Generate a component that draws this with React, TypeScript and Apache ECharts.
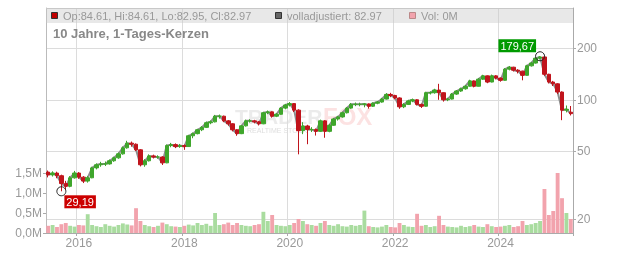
import React, { useEffect, useRef } from 'react';
import * as echarts from 'echarts';

// Monthly categories: June 2015 .. May 2025
const START_YEAR = 2015;
const START_MONTH_INDEX = 5; // June (0-based)
const N_MONTHS = 120;
const months: string[] = [];
for (let i = 0; i < N_MONTHS; i++) {
  const k = START_MONTH_INDEX + i;
  const y = START_YEAR + Math.floor(k / 12);
  const m = (k % 12) + 1;
  months.push(`${y}-${String(m).padStart(2, '0')}`);
}

const yearLabels = ['2016', '2018', '2020', '2022', '2024'];
const priceTicks = [20, 50, 100, 200];
const volumeTicks = [0, 500000, 1000000, 1500000];

const opens = [37.8,36.4,37.3,36.0,32.4,31.2,35.0,37.3,35.3,33.5,
  35.0,40.0,41.7,42.2,42.2,44.0,45.8,48.3,52.4,55.8,
  55.0,51.0,41.7,44.0,47.0,46.3,46.3,42.8,54.0,54.7,
  53.3,54.0,53.3,61.6,63.4,66.8,69.0,73.4,74.3,80.2,
  80.2,75.3,72.4,66.8,63.4,70.4,75.3,75.3,74.3,72.4,
  84.0,85.0,80.2,82.3,89.4,93.2,95.0,87.0,66.0,70.3,
  67.0,67.0,65.4,75.3,65.4,71.0,77.2,79.4,84.0,89.4,
  94.1,94.1,94.1,94.6,91.7,95.5,97.0,101.0,107.5,106.0,
  102.5,91.0,94.0,98.5,100.0,94.0,91.7,110.0,110.0,114.0,
  110.0,100.0,101.0,108.0,112.5,116.0,120.0,129.0,120.0,132.0,
  138.0,127.0,138.0,134.0,130.0,151.0,155.0,149.0,147.0,139.0,
  158.0,164.0,175.0,178.0,141.0,127.0,124.0,111.0,87.0,84.61];

const closes = [36.4,37.3,36.0,32.4,31.2,35.0,37.3,35.3,33.5,35.0,
  40.0,41.7,42.2,42.2,44.0,45.8,48.3,52.4,55.8,55.0,
  51.0,41.7,44.0,47.0,46.3,46.3,42.8,54.0,54.7,53.3,
  54.0,53.3,61.6,63.4,66.8,69.0,73.4,74.3,80.2,80.2,
  75.3,72.4,66.8,63.4,70.4,75.3,75.3,74.3,72.4,84.0,
  85.0,80.2,82.3,89.4,93.2,95.0,87.0,66.0,70.3,67.0,
  67.0,65.4,75.3,65.4,71.0,77.2,79.4,84.0,89.4,94.1,
  94.1,94.1,94.6,91.7,95.5,97.0,101.0,107.5,106.0,102.5,
  91.0,94.0,98.5,100.0,94.0,91.7,110.0,110.0,114.0,110.0,
  100.0,101.0,108.0,112.5,116.0,120.0,129.0,120.0,132.0,138.0,
  127.0,138.0,134.0,130.0,151.0,155.0,149.0,147.0,139.0,158.0,
  164.0,175.0,178.0,141.0,127.0,124.0,111.0,87.0,88.0,82.97];

const lows = [35.2,35.6,34.8,29.19,30.0,30.8,34.6,34.5,32.6,32.8,
  34.8,39.2,40.6,41.0,41.8,43.4,45.2,47.8,51.8,53.2,
  50.2,40.8,40.6,43.6,45.4,45.2,41.6,42.6,52.8,52.2,
  52.4,51.0,53.0,59.6,62.8,65.6,68.4,72.0,73.8,77.6,
  74.0,70.6,65.4,61.6,63.0,69.8,73.6,72.8,70.8,72.0,
  82.4,78.6,79.2,81.8,88.0,91.4,84.8,48.0,63.0,55.0,
  64.8,61.8,64.8,60.0,64.6,70.4,75.6,78.6,83.2,88.6,
  91.8,91.6,90.4,88.8,90.8,94.2,96.2,100.4,103.6,100.6,
  88.6,89.4,93.2,96.8,92.6,89.6,91.2,107.4,108.6,100.0,
  97.6,98.2,100.4,106.8,111.2,114.6,119.4,118.2,119.6,130.8,
  125.0,126.4,131.6,127.6,129.4,148.6,146.4,142.6,130.0,138.4,
  156.4,162.8,172.4,138.0,124.6,120.4,108.2,76.0,84.4,81.0];

const highs = [38.6,38.2,38.0,36.5,33.6,35.8,38.4,37.8,35.8,35.9,
  40.6,42.5,43.4,43.6,44.8,46.5,49.2,53.4,57.6,57.0,
  55.6,51.5,45.0,48.0,47.8,47.4,46.8,54.8,56.0,55.6,
  55.2,54.8,62.4,64.4,67.6,70.2,74.6,75.8,81.6,82.0,
  80.8,76.2,73.0,67.4,71.2,76.6,77.0,76.4,75.2,85.0,
  86.6,85.6,83.6,90.4,94.6,97.0,95.6,88.0,74.0,71.4,
  69.2,68.0,76.6,76.0,72.2,78.4,80.6,85.2,90.6,95.8,
  96.4,96.2,95.8,95.2,96.6,98.4,102.6,109.4,109.8,107.0,
  103.4,95.6,100.0,101.6,100.8,95.0,111.4,112.0,116.0,124.0,
  110.6,102.8,109.6,114.0,117.8,122.0,131.0,129.8,134.0,140.0,
  138.8,140.4,139.4,135.0,153.0,157.6,156.0,151.0,148.0,160.0,
  166.4,176.8,179.67,178.6,142.0,129.0,125.0,112.0,92.6,92.0];

// volume in millions
const volumes = [0.18,0.2,0.15,0.22,0.25,0.18,0.16,0.2,0.19,0.47,
  0.2,0.17,0.15,0.22,0.18,0.16,0.2,0.24,0.21,0.19,
  0.62,0.3,0.2,0.17,0.15,0.18,0.26,0.22,0.17,0.16,
  0.15,0.18,0.21,0.19,0.25,0.2,0.23,0.18,0.5,0.2,
  0.22,0.26,0.2,0.25,0.2,0.18,0.17,0.2,0.22,0.53,
  0.3,0.45,0.2,0.18,0.17,0.2,0.25,0.35,0.3,0.22,
  0.2,0.18,0.25,0.3,0.2,0.18,0.22,0.17,0.16,0.2,
  0.18,0.2,0.56,0.17,0.15,0.14,0.16,0.2,0.15,0.14,
  0.25,0.2,0.16,0.15,0.48,0.18,0.2,0.15,0.17,0.43,
  0.2,0.16,0.15,0.14,0.18,0.15,0.17,0.2,0.16,0.15,
  0.22,0.17,0.15,0.16,0.18,0.2,0.15,0.17,0.3,0.2,
  0.22,0.25,0.3,1.1,0.45,0.55,1.5,0.87,0.5,0.35];

const minPoint = { idx: 3, value: 29.19 };
const maxPoint = { idx: 112, value: 179.67 };

const legendOHLC = 'Op:84.61, Hi:84.61, Lo:82.95, Cl:82.97';
const legendAdj = 'volladjustiert: 82.97';
const legendVol = 'Vol: 0M';
const titleText = '10 Jahre, 1-Tages-Kerzen';

const FONT = '"Liberation Sans", Arial, sans-serif';
const UP = '#3fa62c';
const DOWN = '#c0141c';

export default function App() {
  const ref = useRef<HTMLDivElement>(null);
  useEffect(() => {
    if (!ref.current) return;
    const chart = echarts.init(ref.current, undefined, { renderer: 'svg' });
    const isYearTick = (index: number) => {
      const c = months[index];
      return !!c && c.endsWith('-01') && yearLabels.includes(c.slice(0, 4));
    };
    const candleData = months.map((_, i) => [opens[i], closes[i], lows[i], highs[i]]);
    const volData = volumes.map((v, i) => ({
      value: v * 1e6,
      itemStyle: { color: closes[i] >= opens[i] ? '#a9dc9f' : '#f2a3ad' },
    }));
    const fmtNum = (v: number) => v.toFixed(2).replace('.', ',');

    chart.setOption({
      animation: false,
      textStyle: { fontFamily: FONT },
      grid: { left: 46, right: 59, top: 8, bottom: 20, containLabel: false },
      xAxis: {
        type: 'category',
        data: months,
        boundaryGap: true,
        axisLine: { show: true, lineStyle: { color: '#aaa' } },
        axisTick: { show: true, interval: isYearTick, length: 3, lineStyle: { color: '#aaa' } },
        axisLabel: {
          interval: isYearTick,
          formatter: (v: string) => v.slice(0, 4),
          color: '#999',
          fontSize: 12,
          margin: 4,
        },
        splitLine: { show: true, interval: isYearTick, lineStyle: { color: '#dcdcdc', width: 1 } },
      },
      yAxis: [
        {
          type: 'log',
          logBase: 10,
          position: 'right',
          min: 16.65,
          max: 344,
          axisLine: { show: true, lineStyle: { color: '#aaa' } },
          axisTick: { show: true, length: 3, customValues: priceTicks, lineStyle: { color: '#aaa' } },
          axisLabel: { customValues: priceTicks, color: '#999', fontSize: 12, margin: 4 },
          splitLine: { show: true, lineStyle: { color: '#dcdcdc', width: 1 } },
        },
        {
          type: 'value',
          position: 'left',
          min: 0,
          max: 5625000,
          axisLine: { show: true, lineStyle: { color: '#bbb' } },
          axisTick: { show: true, length: 3, customValues: volumeTicks, lineStyle: { color: '#aaa' } },
          axisLabel: {
            customValues: volumeTicks,
            formatter: (v: number) => (v / 1e6).toFixed(1).replace('.', ',') + 'M',
            color: '#999',
            fontSize: 12,
            margin: 4,
          },
          splitLine: { show: false },
        },
      ],
      series: [
        {
          type: 'bar',
          name: 'Vol',
          yAxisIndex: 1,
          data: volData,
          barCategoryGap: '12%',
          z: 1,
        },
        {
          type: 'line',
          name: 'volladjustiert',
          data: closes,
          yAxisIndex: 0,
          symbol: 'none',
          lineStyle: { color: '#8c8c8c', width: 2 },
          z: 2,
        },
        {
          type: 'candlestick',
          name: 'Kurs',
          yAxisIndex: 0,
          data: candleData,
          barWidth: 4,
          itemStyle: { color: UP, color0: DOWN, borderColor: UP, borderColor0: DOWN, borderWidth: 1 },
          z: 3,
          markPoint: {
            symbol: 'circle',
            symbolSize: 9,
            itemStyle: { color: 'rgba(255,255,255,0)', borderColor: '#222', borderWidth: 1 },
            data: [
              {
                coord: [months[minPoint.idx], minPoint.value],
                value: minPoint.value,
                label: {
                  show: true,
                  formatter: () => fmtNum(minPoint.value),
                  position: [8, 9],
                  align: 'left',
                  verticalAlign: 'top',
                  color: '#fff',
                  fontSize: 11,
                  lineHeight: 12,
                  backgroundColor: '#cc0000',
                  padding: [1, 2, 0, 2],
                },
              },
              {
                coord: [months[maxPoint.idx], maxPoint.value],
                value: maxPoint.value,
                label: {
                  show: true,
                  formatter: () => fmtNum(maxPoint.value),
                  position: [1, 1],
                  align: 'right',
                  verticalAlign: 'bottom',
                  color: '#fff',
                  fontSize: 11,
                  lineHeight: 12,
                  backgroundColor: '#009a00',
                  padding: [1, 2, 0, 2],
                },
              },
            ],
          },
        },
      ],
      graphic: [
        { type: 'text', left: 235, top: 106, z: 0, silent: true,
          style: { text: 'TRADER', font: `bold 21px ${FONT}`, fill: 'rgba(190,190,190,0.3)' } },
        { type: 'text', left: 323, top: 104, z: 0, silent: true,
          style: { text: 'FOX', font: `bold 24px ${FONT}`, fill: 'rgba(245,150,150,0.28)' } },
        { type: 'text', left: 247, top: 127, z: 0, silent: true,
          style: { text: 'REALTIME STOCK', font: `7px ${FONT}`, fill: 'rgba(180,180,180,0.45)' } },
        { type: 'rect', z: 10, silent: true, shape: { x: 46, y: 8, width: 527, height: 15 },
          style: { fill: 'rgba(200,200,200,0.42)' } },
        { type: 'line', z: 10, silent: true, shape: { x1: 46, y1: 8.5, x2: 573, y2: 8.5 },
          style: { stroke: '#c8c8c8', lineWidth: 1 } },
        { type: 'rect', z: 11, shape: { x: 51.5, y: 12.5, width: 6, height: 6 },
          style: { fill: '#c00000', stroke: '#333', lineWidth: 1 } },
        { type: 'text', z: 11, x: 63, y: 15.5,
          style: { text: legendOHLC, font: `11px ${FONT}`, fill: '#999', verticalAlign: 'middle' } },
        { type: 'rect', z: 11, shape: { x: 275.5, y: 12.5, width: 6, height: 6 },
          style: { fill: '#666', stroke: '#333', lineWidth: 1 } },
        { type: 'text', z: 11, x: 287, y: 15.5,
          style: { text: legendAdj, font: `11px ${FONT}`, fill: '#999', verticalAlign: 'middle' } },
        { type: 'rect', z: 11, shape: { x: 409.5, y: 12.5, width: 6, height: 6 },
          style: { fill: '#f2a3ad', stroke: '#b88', lineWidth: 1 } },
        { type: 'text', z: 11, x: 421, y: 15.5,
          style: { text: legendVol, font: `11px ${FONT}`, fill: '#999', verticalAlign: 'middle' } },
        { type: 'text', z: 11, x: 53, y: 33,
          style: { text: titleText, font: `bold 13px ${FONT}`, fill: '#888', verticalAlign: 'middle' } },
      ],
    });
    return () => chart.dispose();
  }, []);
  return <div ref={ref} style={{ position: 'fixed', left: 0, top: 0, width: 632, height: 253 }} />;
}
